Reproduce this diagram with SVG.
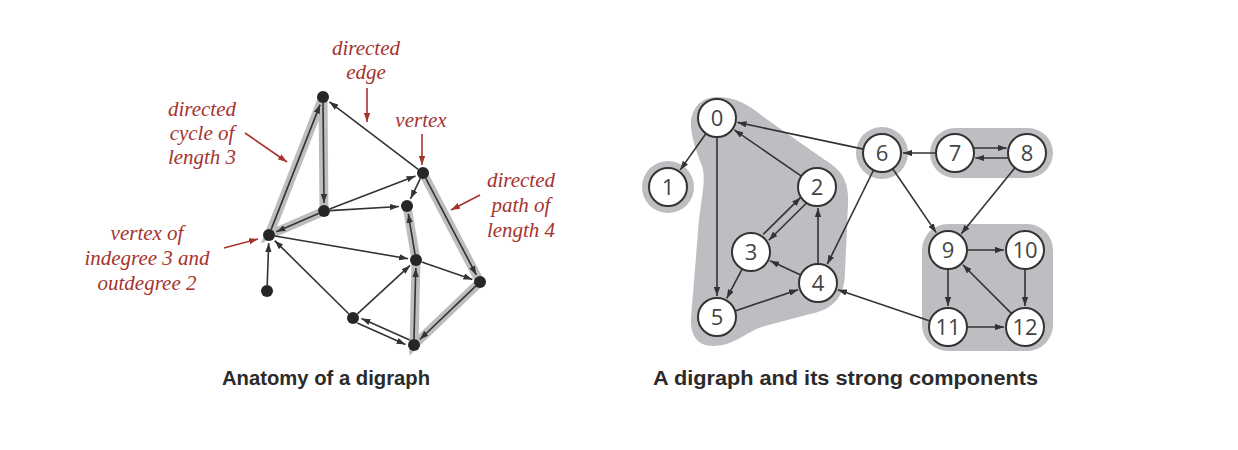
<svg xmlns="http://www.w3.org/2000/svg" width="1238" height="450" viewBox="0 0 1238 450">
<style>
.e{stroke:#333;stroke-width:1.6;fill:none;marker-end:url(#ah)}
.hl{stroke:#bdbdbd;stroke-width:9;stroke-linecap:round;fill:none}
.dot{fill:#262626}
.lbl{font-family:"Liberation Serif",serif;font-style:italic;font-size:21px;fill:#a5342e;text-anchor:middle}
.ra{stroke:#a5342e;stroke-width:1.6;fill:none;marker-end:url(#rh)}
.comp{fill:#bdbec1}
.nc{fill:#fff;stroke:#333;stroke-width:2}
.nt{font-family:"Open Sans","Liberation Sans",sans-serif;font-size:22px;fill:#444;text-anchor:middle}
.cap{font-family:"Liberation Sans",Arial,sans-serif;font-weight:bold;font-size:20px;fill:#2b2b2b}
</style>
<defs>
<marker id="ah" viewBox="0 0 10 7" refX="10" refY="3.5" markerWidth="9" markerHeight="6.5" markerUnits="userSpaceOnUse" orient="auto"><path d="M0,0 L10,3.5 L0,7 z" fill="#333"/></marker>
<marker id="rh" viewBox="0 0 10 7" refX="10" refY="3.5" markerWidth="9" markerHeight="6.5" markerUnits="userSpaceOnUse" orient="auto"><path d="M0,0 L10,3.5 L0,7 z" fill="#a5342e"/></marker>
</defs>
<rect width="1238" height="450" fill="#fff"/>

<!-- LEFT: anatomy of a digraph -->
<g id="highlights">
<path class="hl" d="M269,235 L323,97 L324,211 Z"/>
<path class="hl" d="M423,173 L480,282 L414,345 L416,260 L407,206"/>
</g>
<g id="left-connectors">
<line class="e" x1="271.2" y1="229.4" x2="320.1" y2="104.6"/>
<line class="e" x1="323" y1="103" x2="324" y2="203"/>
<line class="e" x1="318.5" y1="213.4" x2="276.3" y2="231.8"/>
<line class="e" x1="418.2" y1="169.4" x2="329.4" y2="101.8"/>
<line class="e" x1="329.6" y1="208.9" x2="415.5" y2="175.9"/>
<line class="e" x1="330" y1="210.6" x2="399" y2="206.5"/>
<line class="e" x1="420.4" y1="178.4" x2="410.5" y2="198.8"/>
<line class="e" x1="274.9" y1="236" x2="408.1" y2="258.7"/>
<line class="e" x1="348.7" y1="313.8" x2="274.7" y2="240.6"/>
<line class="e" x1="267.2" y1="285" x2="268.7" y2="243"/>
<line class="e" x1="357.4" y1="313.9" x2="410.1" y2="265.4"/>
<line class="e" x1="357.3" y1="323.1" x2="405.5" y2="344.5"/>
<line class="e" x1="409.7" y1="339.9" x2="361.5" y2="318.5"/>
<line class="e" x1="414" y1="339" x2="415.8" y2="268"/>
<line class="e" x1="415" y1="254.1" x2="408.3" y2="213.9"/>
<line class="e" x1="421.7" y1="262" x2="472.4" y2="279.4"/>
<line class="e" x1="425.8" y1="178.3" x2="476.3" y2="274.9"/>
<line class="e" x1="475.7" y1="286.1" x2="419.8" y2="339.5"/>
</g>
<g id="left-vertices">
<circle id="vA" class="dot" cx="323" cy="97" r="6"/>
<circle id="vB" class="dot" cx="423" cy="173" r="6"/>
<circle id="vC" class="dot" cx="324" cy="211" r="6"/>
<circle id="vD" class="dot" cx="407" cy="206" r="6"/>
<circle id="vE" class="dot" cx="269" cy="235" r="6"/>
<circle id="vF" class="dot" cx="416" cy="260" r="6"/>
<circle id="vG" class="dot" cx="480" cy="282" r="6"/>
<circle id="vH" class="dot" cx="353" cy="318" r="6"/>
<circle id="vI" class="dot" cx="414" cy="345" r="6"/>
<circle id="vJ" class="dot" cx="267" cy="291" r="6"/>
</g>
<g id="annotations">
<text class="lbl" x="366" y="55">directed</text>
<text class="lbl" x="366" y="79">edge</text>
<line class="ra" x1="367" y1="88" x2="367" y2="122"/>
<text class="lbl" x="421" y="127">vertex</text>
<line class="ra" x1="422" y1="134" x2="422" y2="165"/>
<text class="lbl" x="521" y="187">directed</text>
<text class="lbl" x="521" y="212">path of</text>
<text class="lbl" x="521" y="237">length 4</text>
<line class="ra" x1="480" y1="195" x2="451" y2="210"/>
<text class="lbl" x="202" y="116">directed</text>
<text class="lbl" x="202" y="140">cycle of</text>
<text class="lbl" x="202" y="164">length 3</text>
<line class="ra" x1="245" y1="133" x2="287" y2="162"/>
<text class="lbl" x="147" y="240">vertex of</text>
<text class="lbl" x="147" y="265">indegree 3 and</text>
<text class="lbl" x="147" y="290">outdegree 2</text>
<line class="ra" x1="224" y1="248" x2="258" y2="239"/>
</g>
<text class="cap" x="222" y="385" textLength="208" lengthAdjust="spacingAndGlyphs">Anatomy of a digraph</text>

<!-- RIGHT: strong components -->
<g id="components">
<path class="comp" d="M717,97 C735,97 748,104 765,118 L825,160 C845,172 849,185 848,205 L845,272 C845,300 830,310 810,314 L765,326 C745,332 735,346 713,346 C697,346 690,335 691,318 L698,232 C700,200 707,182 702,166 C696,150 690,135 691,120 C693,106 703,97 717,97 Z"/>
<circle class="comp" cx="668" cy="187" r="26"/>
<circle class="comp" cx="882" cy="153" r="26"/>
<rect class="comp" x="930" y="128" width="123" height="50" rx="25"/>
<rect class="comp" x="922" y="224" width="131" height="127" rx="26"/>
</g>
<g id="right-connectors">
<line class="e" x1="706" y1="133.5" x2="680.2" y2="169.9"/>
<line class="e" x1="717" y1="137" x2="717" y2="296"/>
<line class="e" x1="801.4" y1="176.2" x2="734.3" y2="129.9"/>
<line class="e" x1="806.3" y1="203.2" x2="768.8" y2="240.2"/>
<line class="e" x1="763.2" y1="234.4" x2="800.7" y2="197.4"/>
<line class="e" x1="742.2" y1="268.8" x2="726.7" y2="298.4"/>
<line class="e" x1="800.7" y1="275" x2="770.1" y2="260.8"/>
<line class="e" x1="818" y1="264" x2="818" y2="208"/>
<line class="e" x1="735" y1="311" x2="798.1" y2="289.7"/>
<line class="e" x1="863.4" y1="149.1" x2="737.5" y2="122.4"/>
<line class="e" x1="873.6" y1="170" x2="827.3" y2="264.2"/>
<line class="e" x1="892.7" y1="168.7" x2="936.2" y2="232.6"/>
<line class="e" x1="936" y1="153" x2="903" y2="153"/>
<line class="e" x1="973.3" y1="148" x2="1006.7" y2="148"/>
<line class="e" x1="1008.7" y1="158" x2="975.3" y2="158"/>
<line class="e" x1="1015" y1="167.7" x2="961.3" y2="233.7"/>
<line class="e" x1="967" y1="250" x2="1004" y2="250"/>
<line class="e" x1="948" y1="269" x2="948" y2="306"/>
<line class="e" x1="1025" y1="269" x2="1025" y2="306"/>
<line class="e" x1="967" y1="327" x2="1004" y2="327"/>
<line class="e" x1="1011.6" y1="313.6" x2="962.8" y2="264.8"/>
<line class="e" x1="930" y1="320.9" x2="837.9" y2="289.7"/>
</g>
<g id="n0"><circle class="nc" cx="717" cy="118" r="19"/><text class="nt" x="717" y="126">0</text></g>
<g id="n1"><circle class="nc" cx="668" cy="187" r="19"/><text class="nt" x="668" y="195">1</text></g>
<g id="n2"><circle class="nc" cx="817" cy="187" r="19"/><text class="nt" x="817" y="195">2</text></g>
<g id="n3"><circle class="nc" cx="751" cy="252" r="19"/><text class="nt" x="751" y="260">3</text></g>
<g id="n4"><circle class="nc" cx="818" cy="283" r="19"/><text class="nt" x="818" y="291">4</text></g>
<g id="n5"><circle class="nc" cx="717" cy="317" r="19"/><text class="nt" x="717" y="325">5</text></g>
<g id="n6"><circle class="nc" cx="882" cy="153" r="19"/><text class="nt" x="882" y="161">6</text></g>
<g id="n7"><circle class="nc" cx="955" cy="153" r="19"/><text class="nt" x="955" y="161">7</text></g>
<g id="n8"><circle class="nc" cx="1027" cy="153" r="19"/><text class="nt" x="1027" y="161">8</text></g>
<g id="n9"><circle class="nc" cx="948" cy="250" r="19"/><text class="nt" x="948" y="258">9</text></g>
<g id="n10"><circle class="nc" cx="1025" cy="250" r="19"/><text class="nt" x="1025" y="258">10</text></g>
<g id="n11"><circle class="nc" cx="948" cy="327" r="19"/><text class="nt" x="948" y="335">11</text></g>
<g id="n12"><circle class="nc" cx="1025" cy="327" r="19"/><text class="nt" x="1025" y="335">12</text></g>
<text class="cap" x="653" y="385" textLength="385" lengthAdjust="spacingAndGlyphs">A digraph and its strong components</text>
</svg>
